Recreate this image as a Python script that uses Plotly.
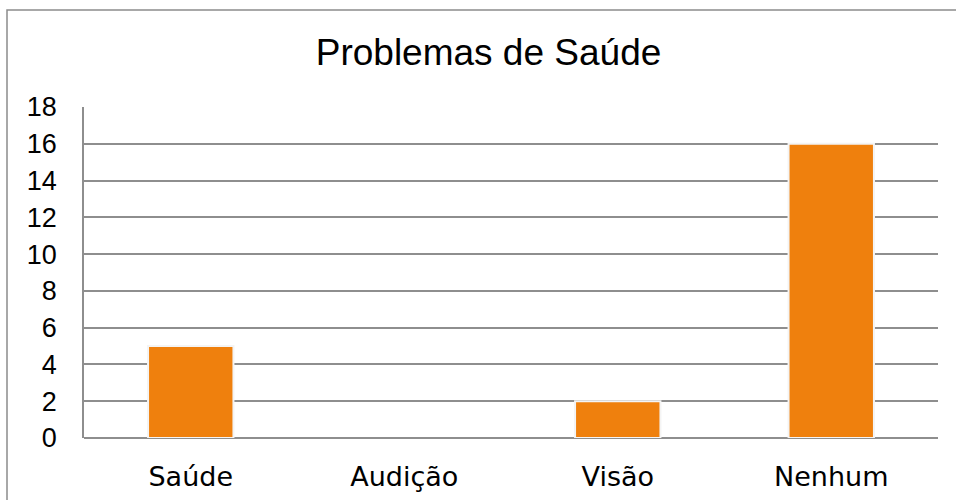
import plotly.graph_objects as go

categories = ["Saúde", "Audição", "Visão", "Nenhum"]
values = [5, 0, 2, 16]
y_ticks = [0, 2, 4, 6, 8, 10, 12, 14, 16, 18]
title_text = "Problemas de Saúde"

fig = go.Figure()
fig.add_trace(go.Bar(
    x=categories,
    y=values,
    marker=dict(
        color="#EF800D",
        line=dict(color="#F4F4F4", width=[2 if v > 0 else 0 for v in values]),
    ),
    hoverinfo="x+y",
))

fig.update_layout(
    width=956,
    height=500,
    margin=dict(l=84, r=18, t=107, b=62),
    paper_bgcolor="white",
    plot_bgcolor="white",
    showlegend=False,
    bargap=0.6,
    title=dict(
        text=title_text,
        x=0.511, xanchor="center",
        y=1 - 52 / 500, yanchor="middle",
        font=dict(family="Liberation Sans, Arial", size=37, color="black"),
    ),
    xaxis=dict(
        automargin=False,
        showgrid=False,
        showline=False,
        zeroline=False,
        ticks="",
        tickfont=dict(family="DejaVu Sans, Verdana", size=27, color="black"),
        ticklabelstandoff=20,
    ),
    yaxis=dict(
        automargin=False,
        range=[0, 18],
        tickvals=y_ticks,
        showgrid=True,
        gridcolor="#8E8E8E",
        gridwidth=1.5,
        showline=True,
        linecolor="#8E8E8E",
        linewidth=1.5,
        zeroline=True,
        zerolinecolor="#8E8E8E",
        zerolinewidth=1.5,
        ticks="",
        tickfont=dict(family="Liberation Sans, Arial", size=27, color="black"),
        ticklabelstandoff=20,
    ),
    shapes=[
        dict(
            type="rect", xref="paper", yref="paper",
            x0=(7 - 84) / 854, x1=1.2,
            y0=-0.5, y1=(438 - 10) / 331,
            line=dict(color="#8C8C8C", width=1.5),
            fillcolor="rgba(0,0,0,0)",
            layer="below",
        )
    ],
)

fig.write_html(
    "out.html",
    config={"displayModeBar": False},
    post_script="document.body.style.margin='0';",
)
